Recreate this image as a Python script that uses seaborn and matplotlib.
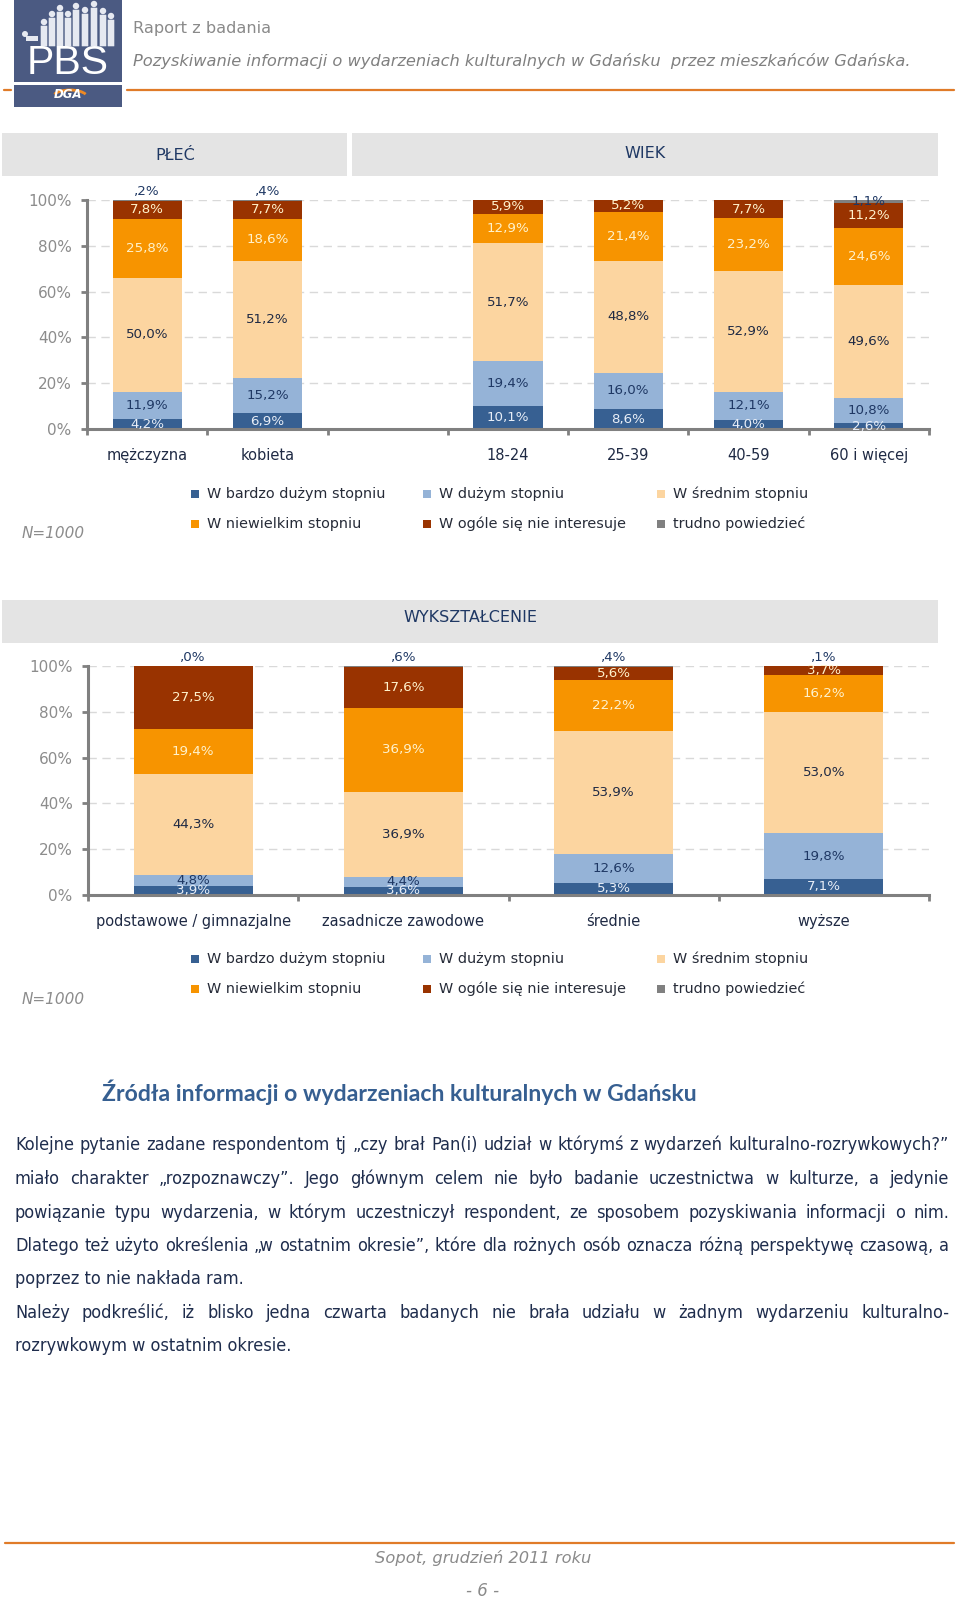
import numpy as np
import pandas as pd
import matplotlib
matplotlib.use("Agg")
import matplotlib.pyplot as plt
import seaborn as sns
from matplotlib.patches import Rectangle, Circle, FancyBboxPatch, Arc

# ---------------- data ----------------
series = ["W bardzo dużym stopniu", "W dużym stopniu", "W średnim stopniu",
          "W niewielkim stopniu", "W ogóle się nie interesuje", "trudno powiedzieć"]

top_categories = ["mężczyzna", "kobieta", "18-24", "25-39", "40-59", "60 i więcej"]
top_very_high = [4.2, 6.9, 10.1, 8.6, 4.0, 2.6]
top_high = [11.9, 15.2, 19.4, 16.0, 12.1, 10.8]
top_medium = [50.0, 51.2, 51.7, 48.8, 52.9, 49.6]
top_low = [25.8, 18.6, 12.9, 21.4, 23.2, 24.6]
top_none = [7.8, 7.7, 5.9, 5.2, 7.7, 11.2]
top_dk = [0.2, 0.4, np.nan, np.nan, np.nan, 1.1]

edu_categories = ["podstawowe / gimnazjalne", "zasadnicze zawodowe", "średnie", "wyższe"]
edu_very_high = [3.9, 3.6, 5.3, 7.1]
edu_high = [4.8, 4.4, 12.6, 19.8]
edu_medium = [44.3, 36.9, 53.9, 53.0]
edu_low = [19.4, 36.9, 22.2, 16.2]
edu_none = [27.5, 17.6, 5.6, 3.7]
edu_dk = [0.0, 0.6, 0.4, 0.1]

y_ticks = [0, 20, 40, 60, 80, 100]

body_lines = [
    "Kolejne pytanie zadane respondentom tj „czy brał Pan(i) udział w którymś z wydarzeń kulturalno-rozrywkowych?”",
    "miało charakter „rozpoznawczy”. Jego głównym celem nie było badanie uczestnictwa w kulturze, a jedynie",
    "powiązanie typu wydarzenia, w którym uczestniczył respondent, ze sposobem pozyskiwania informacji o nim.",
    "Dlatego też użyto określenia „w ostatnim okresie”, które dla rożnych osób oznacza różną perspektywę czasową, a",
    "poprzez to nie nakłada ram.",
    "Należy podkreślić, iż blisko jedna czwarta badanych nie brała udziału w żadnym wydarzeniu kulturalno-",
    "rozrywkowym w ostatnim okresie.",
]
body_justified = [True, True, True, True, False, True, False]

# ---------------- style ----------------
colors = ["#376092", "#95b3d7", "#fcd5a0", "#f79400", "#993300", "#808080"]
label_colors = ["#e8eef7", "#1f3864", "#1f2a44", "#fff2cc", "#fff2cc", "#1f3864"]
GRAY = "#808080"
NAVY = "#1f3864"
TXT = "#1f2a44"

sns.set_theme(style="white")
plt.rcParams["font.family"] = ["DejaVu Sans"]

W, H = 960, 1600
fig = plt.figure(figsize=(9.6, 16), dpi=100)
fig.patch.set_facecolor("white")
dx = fig.add_axes([0, 0, 1, 1], zorder=0)
dx.set_xlim(0, W)
dx.set_ylim(H, 0)
dx.axis("off")
renderer = fig.canvas.get_renderer()


def T(x, y, s, **kw):
    return dx.text(x, y, s, **kw)


def fit_text(x, y, s, width, **kw):
    t = T(x, y, s, **kw)
    w = t.get_window_extent(renderer).width
    t.set_fontsize(t.get_fontsize() * width / w)
    return t


def justify(x0, x1, y, line, fs, **kw):
    words = line.split(" ")
    ts = [T(x0, y, w, fontsize=fs, **kw) for w in words]
    widths = [t.get_window_extent(renderer).width for t in ts]
    gap = (x1 - x0 - sum(widths)) / max(len(words) - 1, 1)
    x = x0
    for t, w in zip(ts, widths):
        t.set_x(x)
        x += w + gap


def ax_rect(left, right, top, bottom):
    return [left / W, 1 - bottom / H, (right - left) / W, (bottom - top) / H]


def fmt(v):
    s = f"{v:.1f}".replace(".", ",")
    if v < 1:
        s = s[1:]
    return s + "%"


def stacked(ax, cats, order, vals_list, width):
    vals = np.array(vals_list, dtype=float)
    cum = np.cumsum(np.nan_to_num(vals), axis=0)
    for i in range(len(vals) - 1, -1, -1):
        df = pd.DataFrame({"cat": cats, "v": cum[i]})
        sns.barplot(data=df, x="cat", y="v", order=order, color=colors[i],
                    width=width, saturation=1, errorbar=None, linewidth=0, ax=ax)
    for i in range(len(vals)):
        for j, c in enumerate(cats):
            v = vals[i, j]
            if np.isnan(v):
                continue
            xpos = order.index(c)
            bottom = cum[i - 1, j] if i > 0 else 0.0
            if i == len(vals) - 1 and v < 1:
                ax.annotate(fmt(v), xy=(xpos, cum[i, j]), xytext=(0, 9),
                            textcoords="offset pixels", ha="center", va="center",
                            fontsize=9.6, color=label_colors[i], annotation_clip=False)
            else:
                ax.text(xpos, bottom + v / 2, fmt(v), ha="center", va="center",
                        fontsize=9.6, color=label_colors[i])


def style_axes(ax, n):
    ax.set_xlim(-0.5, n - 0.5)
    ax.set_ylim(0, 100)
    ax.set_yticks(y_ticks)
    ax.set_yticklabels([f"{t}%" for t in y_ticks], color="#8c8c8c", fontsize=11)
    ax.set_xticks(np.arange(-0.5, n), minor=True)
    ax.tick_params(axis="x", which="major", length=0, labelsize=10.5,
                   labelcolor=TXT, pad=14)
    ax.tick_params(axis="x", which="minor", length=4, width=2, color=GRAY,
                   direction="out", bottom=True)
    ax.tick_params(axis="y", length=4, width=2, color=GRAY, direction="out",
                   pad=7, left=True)
    for s in ["top", "right"]:
        ax.spines[s].set_visible(False)
    for s in ["left", "bottom"]:
        ax.spines[s].set_color(GRAY)
        ax.spines[s].set_linewidth(2.2)
    ax.yaxis.grid(True, color="#d9d9d9", linestyle=(0, (6, 4)), linewidth=1)
    ax.xaxis.grid(False)
    ax.set_axisbelow(True)
    ax.set_xlabel("")
    ax.set_ylabel("")
    ax.patch.set_alpha(0)


def legend(y1, y2):
    xs = [195, 427, 661]
    pos = [(xs[0], y1), (xs[1], y1), (xs[2], y1), (xs[0], y2), (xs[1], y2), (xs[2], y2)]
    for (x, y), name, c in zip(pos, series, colors):
        dx.add_patch(Rectangle((x - 4, y - 4), 8, 8, color=c, lw=0))
        T(x + 12, y, name, fontsize=10.4, color="#262b38", va="center", ha="left")


# ---------------- page header ----------------
logo_c = "#4b5a82"
dx.add_patch(Rectangle((14, 0), 108, 82, color=logo_c, lw=0))
dx.add_patch(Rectangle((14, 85), 108, 22, color=logo_c, lw=0))
people = [(44, 22), (52, 30), (60, 36), (68, 30), (76, 38), (85, 34), (94, 40), (103, 33), (111, 28)]
for px, ph in people:
    dx.add_patch(Circle((px, 46 - ph - 2), 3.2, color="#e6e9f1", lw=0))
    dx.add_patch(FancyBboxPatch((px - 3, 46 - ph + 2), 6, ph - 2,
                                boxstyle="round,pad=0.3", color="#e6e9f1", lw=0))
dx.add_patch(Rectangle((26, 36), 12, 5, color="#e6e9f1", lw=0))
dx.add_patch(Circle((25, 34), 3, color="#e6e9f1", lw=0))
T(68, 63, "PBS", fontsize=29.5, color="white", ha="center", va="center",
  family="Liberation Sans")
dx.add_patch(Arc((70, 97), 34, 14, theta1=190, theta2=350, color="#f08a24", lw=2))
T(68, 95, "DGA", fontsize=8.5, color="white", ha="center", va="center",
  fontweight="bold", fontstyle="italic")

fit_text(133, 29, "Raport z badania", 137, fontsize=12, color="#8a8a8a", va="center")
fit_text(133, 61, "Pozyskiwanie informacji o wydarzeniach kulturalnych w Gdańsku  przez mieszkańców Gdańska.",
         775, fontsize=12, color="#808080", va="center", fontstyle="italic")
dx.plot([127, 954], [90, 90], color="#e07b28", lw=1.6)
dx.plot([4, 11], [90, 90], color="#e07b28", lw=1.6)

# ---------------- top chart ----------------
band = "#e4e4e4"
dx.add_patch(Rectangle((2, 133), 345, 43, color=band, lw=0))
dx.add_patch(Rectangle((352, 133), 586, 43, color=band, lw=0))
T(175, 155, "PŁEĆ", fontsize=11.5, color=NAVY, ha="center", va="center")
T(645, 153, "WIEK", fontsize=11.5, color=NAVY, ha="center", va="center")

ax1 = fig.add_axes(ax_rect(87, 929, 200, 429), zorder=2)
top_order = top_categories[:2] + [" "] + top_categories[2:]
stacked(ax1, top_categories, top_order,
        [top_very_high, top_high, top_medium, top_low, top_none, top_dk], 0.575)
style_axes(ax1, len(top_order))
legend(494, 524)
T(22, 533, "N=1000", fontsize=11, color="#8c8c8c", fontstyle="italic", va="center")

# ---------------- bottom chart ----------------
dx.add_patch(Rectangle((2, 600), 936, 43, color=band, lw=0))
T(470, 617, "WYKSZTAŁCENIE", fontsize=11.5, color=NAVY, ha="center", va="center")
ax2 = fig.add_axes(ax_rect(88, 929, 666, 895), zorder=2)
stacked(ax2, edu_categories, edu_categories,
        [edu_very_high, edu_high, edu_medium, edu_low, edu_none, edu_dk], 0.567)
style_axes(ax2, len(edu_categories))
legend(959, 989)
T(22, 999, "N=1000", fontsize=11, color="#8c8c8c", fontstyle="italic", va="center")

# ---------------- text section ----------------
fit_text(102, 1092, "Źródła informacji o wydarzeniach kulturalnych w Gdańsku", 595,
         fontsize=15, color="#365f91", fontweight="bold", family="Lato", va="center")

body_kw = dict(color="#1f2d4d", va="center", fontstretch="condensed")
probe = fit_text(15, -200, body_lines[4], 228, fontsize=12, **body_kw)
body_fs = probe.get_fontsize()
probe.remove()
line_ys = [1145, 1179, 1213, 1246, 1279, 1313, 1346]
for line, just, y in zip(body_lines, body_justified, line_ys):
    if just:
        justify(15, 949, y, line, body_fs, **body_kw)
    else:
        T(15, y, line, fontsize=body_fs, **body_kw)

# ---------------- footer ----------------
dx.plot([5, 954], [1543, 1543], color="#e07b28", lw=1.6)
fit_text(483, 1558, "Sopot, grudzień 2011 roku", 215, fontsize=12, color="#8a8a8a",
         fontstyle="italic", ha="center", va="center")
T(483, 1591, "- 6 -", fontsize=12, color="#8a8a8a", fontstyle="italic",
  ha="center", va="center")

fig.savefig("out.png", dpi=100, facecolor="white")
